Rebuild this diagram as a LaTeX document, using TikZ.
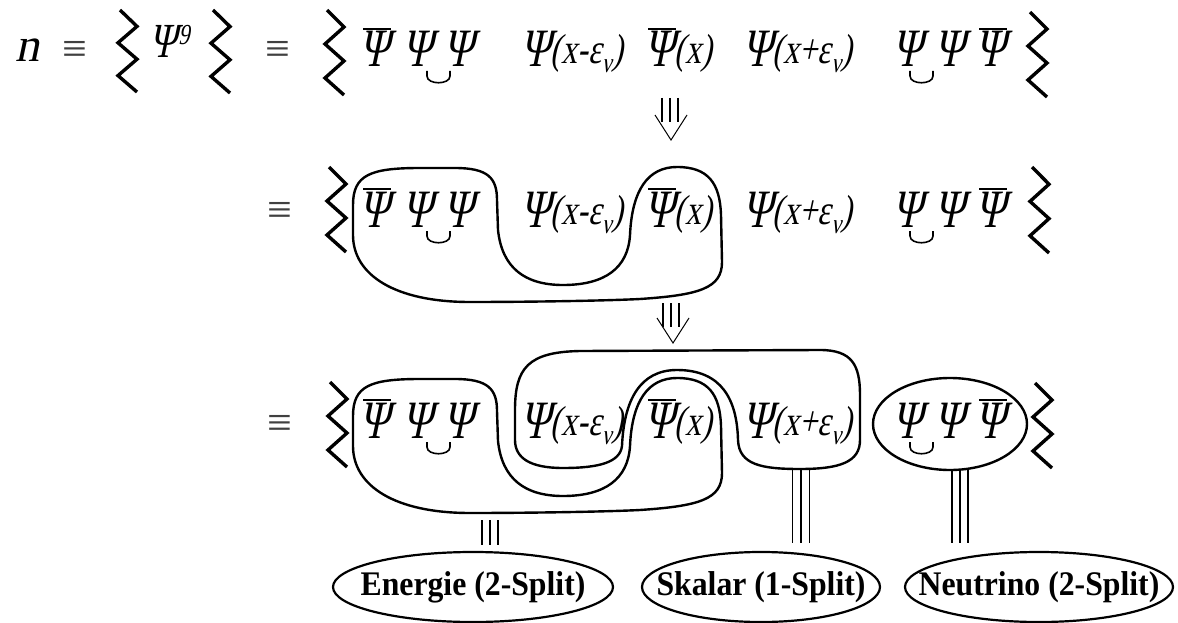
\documentclass[tikz,border=0pt]{standalone}
\usepackage{fontspec}
\setmainfont{Liberation Serif}
\newfontfamily\pf[FakeStretch=0.76,FakeSlant=0.21]{Liberation Serif}
\newfontfamily\nf[FakeSlant=0.21]{Liberation Serif}
\newfontfamily\lf[FakeStretch=0.92]{Liberation Serif}
\usetikzlibrary{calc,shapes.geometric}

\newcommand\zz[3]{\draw[zzs] ({#1+2},{#2}) -- ({#1+19},{#2+0.2*#3}) -- ({#1},{#2+0.4*#3}) -- ({#1+19},{#2+0.6*#3}) -- ({#1},{#2+0.8*#3}) -- ({#1+19},{#2+#3});}
\newcommand\cupat[3]{\draw[cups] (#1,{#3}) -- (#1,{#3+5}) .. controls (#1,{#3+14}) and (#2,{#3+14}) .. (#2,{#3+5}) -- (#2,{#3});}
\newcommand\ovl[1]{\draw[bar] ([xshift=4pt,yshift=3pt]#1.north west) -- ([xshift=2pt,yshift=3pt]#1.north east);}
\newcommand\trip[3]{%
 \draw[tr] ([xshift=-#3pt]#1) -- ([xshift=-#3pt]#2);
 \draw[tr] (#1) -- (#2);
 \draw[tr] ([xshift=#3pt]#1) -- ([xshift=#3pt]#2);}
\newcommand\nus{\kern0.5pt\raisebox{-9pt}{\fontsize{28}{28}\selectfont ν}\kern1pt}
\newcommand\termrow[2]{%
 \node[tok] (#1a) at (359,#2) {Ψ}; \ovl{#1a}
 \node[tok] (#1b) at (402,#2) {Ψ};
 \node[tok] (#1c) at (443,#2) {Ψ};
 \cupat{427}{450}{#2+4}
 \node[tok] (#1d) at (520,#2) {Ψ};
 \node[sub] (#1e) at ([xshift=0.5pt,yshift=3pt]#1d.base east) {(x-ε\nus)};
 \node[tok] (#1f) at (644,#2) {Ψ}; \ovl{#1f}
 \node[sub] (#1g) at ([xshift=0.5pt,yshift=3pt]#1f.base east) {(x)};
 \node[tok] (#1h) at (742,#2) {Ψ};
 \node[sub] (#1i) at ([xshift=0.5pt,yshift=3pt]#1h.base east) {(x+ε\nus)};
 \node[tok] (#1j) at (892,#2) {Ψ};
 \node[tok] (#1k) at (934,#2) {Ψ};
 \cupat{910}{933}{#2+4}
 \node[tok] (#1l) at (975,#2) {Ψ}; \ovl{#1l}
}

\begin{document}
\begin{tikzpicture}[x=1pt,y=-1pt,
 tok/.style={inner sep=0pt, outer sep=0pt, anchor=base west, font=\pf\fontsize{54}{54}\selectfont},
 sub/.style={tok, font=\pf\fontsize{42}{42}\selectfont},
 eqv/.style={inner sep=0pt, font=\fontsize{44}{44}\selectfont, text=black!75},
 zzs/.style={line width=3.4pt, line join=miter, miter limit=10},
 blob/.style={line width=2.4pt, line join=round},
 cups/.style={line width=1.6pt},
 bar/.style={line width=2pt},
 tr/.style={line width=1.2pt},
 lab/.style={draw, ellipse, line width=2.2pt, inner sep=0pt, minimum height=70pt, font=\lf\bfseries\fontsize{34.5}{34.5}\selectfont},
]
\useasboundingbox[fill=white] (0,0) rectangle (1178,623);

% ---------- row 1 ----------
\node[tok, font=\nf\fontsize{48}{48}\selectfont] (n) at (15,62) {n};
\node[eqv] (q1) at (75,52.5) {≡};
\zz{118}{10}{82}
\node[tok, font=\pf\fontsize{49}{49}\selectfont] (p9) at (149,58) {Ψ};
\node[tok, font=\pf\fontsize{29}{29}\selectfont] (nine) at ([xshift=2pt,yshift=13pt]p9.base east) {9};
\zz{211}{10}{83}
\node[eqv] (q2) at (278,52.5) {≡};
\zz{325}{10}{85}
\termrow{r1}{67}
\zz{1028}{12}{85}

% arrow 1
\coordinate (a1s) at (670,98); \coordinate (a1e) at (670,122); \coordinate (a1t) at (671,140);
\trip{a1s}{a1e}{8}
\draw[line width=1pt] ($(a1t)+(-16,-25)$) -- (a1t) -- ($(a1t)+(16,-25)$);

% ---------- row 2 ----------
\node[eqv] (q3) at (280,213.5) {≡};
\zz{327}{167}{85}
\draw[blob] (353,205) .. controls (353,175) and (370,168) .. (420,168)
 -- (455,168) .. controls (488,168) and (497,178) .. (497,200)
 -- (498,230) .. controls (502,268) and (525,285) .. (563,285)
 .. controls (605,285) and (628,268) .. (630,235)
 .. controls (632,190) and (648,167) .. (677,167)
 .. controls (708,167) and (720,183) .. (721,215)
 -- (722,262) .. controls (722,288) and (700,295) .. (640,299)
 .. controls (600,301) and (520,302) .. (470,302)
 .. controls (395,302) and (353,275) .. (353,235) -- cycle;
\termrow{r2}{227}
\zz{1030}{167}{86}

% arrow 2
\coordinate (a2s) at (671,303); \coordinate (a2e) at (671,327); \coordinate (a2t) at (673,343);
\trip{a2s}{a2e}{8}
\draw[line width=1pt] ($(a2t)+(-16,-25)$) -- (a2t) -- ($(a2t)+(16,-25)$);

% ---------- row 3 ----------
\coordinate (ea) at (490,520); \coordinate (eb) at (490,545);
\coordinate (sa) at (801,469); \coordinate (sb) at (801,543);
\coordinate (na) at (960,470); \coordinate (nb) at (960,543);
\trip{ea}{eb}{8}
\trip{sa}{sb}{8.5}
\trip{na}{nb}{8}

\node[eqv] (q4) at (280,426.5) {≡};
\zz{328}{382}{85}
\begin{scope}[yshift=-211pt]
\draw[blob] (353,205) .. controls (353,175) and (370,168) .. (420,168)
 -- (455,168) .. controls (488,168) and (497,178) .. (497,200)
 -- (498,230) .. controls (502,268) and (525,285) .. (563,285)
 .. controls (605,285) and (628,268) .. (630,235)
 .. controls (632,190) and (648,167) .. (677,167)
 .. controls (708,167) and (720,183) .. (721,215)
 -- (722,262) .. controls (722,288) and (700,295) .. (640,299)
 .. controls (600,301) and (520,302) .. (470,302)
 .. controls (395,302) and (353,275) .. (353,235) -- cycle;
\end{scope}
\draw[blob] (515,410) .. controls (515,368) and (528,352) .. (580,351)
 -- (820,350) .. controls (852,350) and (860,365) .. (860,395)
 -- (860,440) .. controls (860,462) and (840,469) .. (800,469)
 .. controls (762,469) and (739,465) .. (738,440)
 .. controls (737,400) and (722,370) .. (677,370)
 .. controls (640,370) and (624,400) .. (622,446)
 .. controls (620,462) and (600,468) .. (563,468)
 .. controls (530,468) and (515,458) .. (515,440) -- cycle;
\node[draw, ellipse, line width=2.4pt, minimum width=154pt, minimum height=92pt] (gc) at (950,424) {};
\termrow{r3}{438}
\zz{1033}{383}{85}

% labels
\node[lab, minimum width=280pt] (en) at (473,587) {\makebox[0pt]{Energie (2-Split)}};
\node[lab, minimum width=238pt] (sk) at (761,587) {\makebox[0pt]{Skalar (1-Split)}};
\node[lab, minimum width=268pt] (ne) at (1039,587) {\makebox[0pt]{Neutrino (2-Split)}};
\end{tikzpicture}
\end{document}
